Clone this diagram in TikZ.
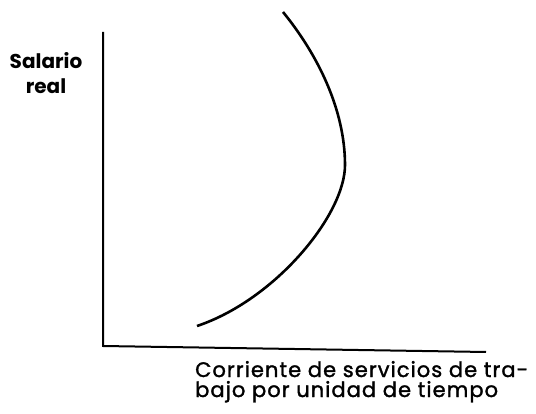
\documentclass[tikz,border=0pt]{standalone}
\usepackage{fontspec}
\setmainfont{Poppins}
\usetikzlibrary{positioning}

\begin{document}
\begin{tikzpicture}[x=1pt,y=-1pt]

\useasboundingbox (0,0) rectangle (536,414);

\coordinate (o) at (103,346);
\coordinate (ytop) at (103,32);
\coordinate (xend) at (486,352);

\node[align=center, inner sep=0pt, font=\fontsize{20}{25}\selectfont\bfseries] (wage) at (46,73) {Salario\\real};

\node[align=left, anchor=base west, inner sep=0pt, font=\fontsize{21}{20}\selectfont\addfontfeatures{LetterSpace=5,FakeBold=1.5}] (labor) at (195,397) {Corriente de servicios de tra-\\bajo por unidad de tiempo};

\draw[line width=2pt] (ytop) -- (o) -- (xend);

\draw[line width=2.6pt] (283,12) .. controls (318,55) and (345,110) .. (345,165) .. controls (345,215) and (275,300) .. (197,326);

\end{tikzpicture}
\end{document}
